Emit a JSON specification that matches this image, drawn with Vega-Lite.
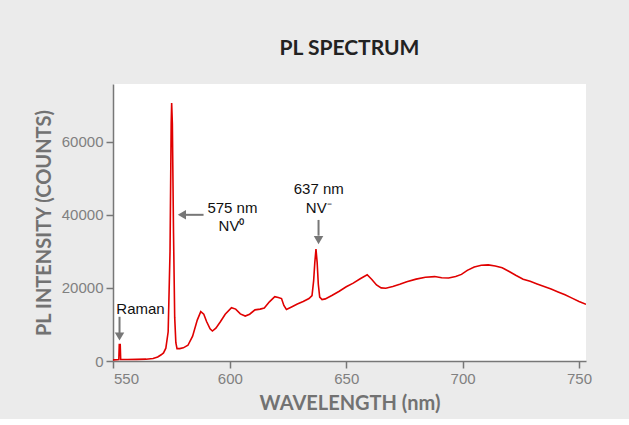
{
  "$schema": "https://vega.github.io/schema/vega-lite/v6.json",
  "width": 473,
  "height": 277,
  "autosize": {"type": "none"},
  "padding": {"left": 113, "top": 84, "right": 43, "bottom": 58},
  "background": "#ebebeb",
  "title": {
    "text": "PL SPECTRUM",
    "font": "Lato",
    "fontSize": 21,
    "fontWeight": "bold",
    "color": "#222222",
    "anchor": "middle",
    "frame": "group",
    "offset": 25
  },
  "config": {
    "view": {"stroke": null, "fill": "#ffffff"},
    "axis": {
      "domainColor": "#777777",
      "domainWidth": 1.5,
      "tickColor": "#777777",
      "tickWidth": 1.5,
      "tickSize": 7,
      "labelFont": "Liberation Sans",
      "labelFontSize": 15,
      "labelColor": "#808080",
      "labelPadding": 3,
      "titleFont": "Lato",
      "titleFontSize": 20,
      "titleFontWeight": "bold",
      "titleColor": "#727272",
      "grid": false
    }
  },
  "datasets": {
    "spectrum": [
      {"nm": 549.8, "counts": 300}, {"nm": 551.5, "counts": 350}, {"nm": 552.3, "counts": 400},
      {"nm": 552.5, "counts": 4500}, {"nm": 552.9, "counts": 4500}, {"nm": 553.1, "counts": 400},
      {"nm": 556, "counts": 400}, {"nm": 560, "counts": 450}, {"nm": 564, "counts": 500},
      {"nm": 567, "counts": 700}, {"nm": 569, "counts": 1100}, {"nm": 570.5, "counts": 1700},
      {"nm": 571.5, "counts": 2200}, {"nm": 572.5, "counts": 3500}, {"nm": 573.5, "counts": 8000},
      {"nm": 574.3, "counts": 30000}, {"nm": 574.8, "counts": 65000}, {"nm": 575.0, "counts": 70600},
      {"nm": 575.3, "counts": 65000}, {"nm": 575.8, "counts": 35000}, {"nm": 576.3, "counts": 12000},
      {"nm": 576.8, "counts": 5000}, {"nm": 577.3, "counts": 3400}, {"nm": 578.5, "counts": 3400},
      {"nm": 580, "counts": 3600}, {"nm": 582, "counts": 4300}, {"nm": 584, "counts": 6800},
      {"nm": 586, "counts": 11200}, {"nm": 587.5, "counts": 13500}, {"nm": 588.8, "counts": 12800},
      {"nm": 590, "counts": 10800}, {"nm": 591.5, "counts": 8800}, {"nm": 592.5, "counts": 8200},
      {"nm": 594, "counts": 9000}, {"nm": 596, "counts": 10800}, {"nm": 598, "counts": 12800},
      {"nm": 600.7, "counts": 14600}, {"nm": 602.5, "counts": 14200}, {"nm": 604.5, "counts": 12900},
      {"nm": 606.6, "counts": 12300}, {"nm": 608.5, "counts": 12800}, {"nm": 610.8, "counts": 14000},
      {"nm": 613, "counts": 14200}, {"nm": 614.8, "counts": 14500}, {"nm": 617, "counts": 16200},
      {"nm": 619.3, "counts": 17600}, {"nm": 620.8, "counts": 17400}, {"nm": 622.2, "counts": 17100},
      {"nm": 623.2, "counts": 15200}, {"nm": 624.3, "counts": 14100}, {"nm": 626.5, "counts": 14800},
      {"nm": 629, "counts": 15600}, {"nm": 631.5, "counts": 16300}, {"nm": 634, "counts": 17100},
      {"nm": 635.3, "counts": 17900}, {"nm": 636.0, "counts": 22000}, {"nm": 636.5, "counts": 27000},
      {"nm": 637.0, "counts": 30600}, {"nm": 637.5, "counts": 27000}, {"nm": 638.0, "counts": 21000},
      {"nm": 638.6, "counts": 17500}, {"nm": 639.6, "counts": 16800}, {"nm": 641, "counts": 17000},
      {"nm": 644, "counts": 18000}, {"nm": 647, "counts": 19100}, {"nm": 650, "counts": 20300},
      {"nm": 653, "counts": 21300}, {"nm": 656, "counts": 22500}, {"nm": 659, "counts": 23600},
      {"nm": 661, "counts": 22300}, {"nm": 663, "counts": 20800}, {"nm": 665, "counts": 20000},
      {"nm": 667, "counts": 19900}, {"nm": 670, "counts": 20400}, {"nm": 673, "counts": 21000},
      {"nm": 676, "counts": 21700}, {"nm": 680, "counts": 22400}, {"nm": 684, "counts": 22900},
      {"nm": 688, "counts": 23100}, {"nm": 691, "counts": 22800}, {"nm": 694, "counts": 22700},
      {"nm": 697, "counts": 23100}, {"nm": 699.5, "counts": 23700}, {"nm": 702, "counts": 24800},
      {"nm": 705, "counts": 25700}, {"nm": 708, "counts": 26200}, {"nm": 711, "counts": 26300},
      {"nm": 714, "counts": 26000}, {"nm": 717, "counts": 25500}, {"nm": 720, "counts": 24500},
      {"nm": 723, "counts": 23400}, {"nm": 726, "counts": 22400}, {"nm": 729, "counts": 21800},
      {"nm": 732, "counts": 21100}, {"nm": 735, "counts": 20400}, {"nm": 738, "counts": 19700},
      {"nm": 741, "counts": 18900}, {"nm": 744, "counts": 18100}, {"nm": 747, "counts": 17200},
      {"nm": 750, "counts": 16300}, {"nm": 753, "counts": 15500}
    ],
    "arrows": [
      {"x": 552.6, "x2": 552.6, "y": 12100, "y2": 7600},
      {"x": 580.5, "x2": 588.7, "y": 40000, "y2": 40000},
      {"x": 638.1, "x2": 638.1, "y": 38600, "y2": 34300}
    ],
    "headsDown": [
      {"x": 552.6, "y": 6700},
      {"x": 638.1, "y": 33100}
    ],
    "headsLeft": [
      {"x": 579.4, "y": 40000}
    ],
    "labels": [
      {"x": 561.6, "y": 14250, "text": "Raman"},
      {"x": 601.1, "y": 41800, "text": "575 nm"},
      {"x": 600.7, "y": 36900, "text": "NV⁰"},
      {"x": 638.2, "y": 47050, "text": "637 nm"},
      {"x": 638.2, "y": 41800, "text": "NV⁻"}
    ]
  },
  "layer": [
    {
      "data": {"name": "spectrum"},
      "mark": {"type": "line", "color": "#e00000", "strokeWidth": 1.6, "clip": true},
      "encoding": {
        "x": {
          "field": "nm", "type": "quantitative",
          "scale": {"domain": [549.8, 753], "nice": false, "zero": false},
          "axis": {"values": [550, 600, 650, 700, 750], "title": "WAVELENGTH (nm)", "titlePadding": 7}
        },
        "y": {
          "field": "counts", "type": "quantitative",
          "scale": {"domain": [0, 75800], "nice": false},
          "axis": {"values": [0, 20000, 40000, 60000], "format": "d", "title": "PL INTENSITY (COUNTS)", "titlePadding": 7}
        }
      }
    },
    {
      "data": {"name": "arrows"},
      "mark": {"type": "rule", "color": "#777777", "strokeWidth": 2},
      "encoding": {
        "x": {"field": "x", "type": "quantitative"},
        "x2": {"field": "x2"},
        "y": {"field": "y", "type": "quantitative"},
        "y2": {"field": "y2"}
      }
    },
    {
      "data": {"name": "headsDown"},
      "mark": {"type": "point", "shape": "triangle-down", "filled": true, "color": "#777777", "opacity": 1, "size": 90},
      "encoding": {
        "x": {"field": "x", "type": "quantitative"},
        "y": {"field": "y", "type": "quantitative"}
      }
    },
    {
      "data": {"name": "headsLeft"},
      "mark": {"type": "point", "shape": "triangle-left", "filled": true, "color": "#777777", "opacity": 1, "size": 90},
      "encoding": {
        "x": {"field": "x", "type": "quantitative"},
        "y": {"field": "y", "type": "quantitative"}
      }
    },
    {
      "data": {"name": "labels"},
      "mark": {"type": "text", "font": "Liberation Sans", "fontSize": 15, "color": "#111111", "align": "center", "baseline": "middle"},
      "encoding": {
        "x": {"field": "x", "type": "quantitative"},
        "y": {"field": "y", "type": "quantitative"},
        "text": {"field": "text", "type": "nominal"}
      }
    }
  ]
}
